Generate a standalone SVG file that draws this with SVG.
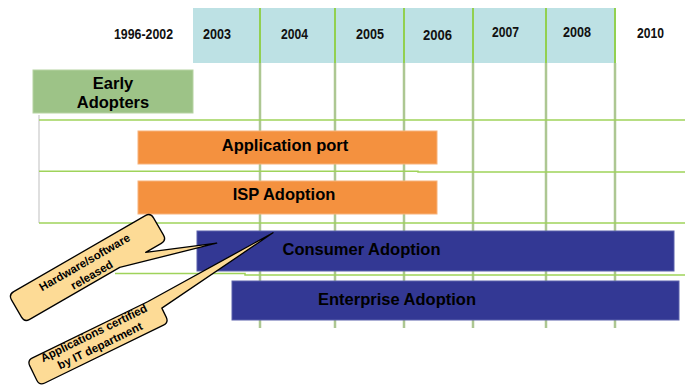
<svg xmlns="http://www.w3.org/2000/svg" width="685" height="391" viewBox="0 0 685 391">
<style>
.yr{font-family:"Liberation Sans",Arial,sans-serif;font-weight:bold;font-size:14px;fill:#111}
.lbl{font-family:"Liberation Sans",Arial,sans-serif;font-weight:bold;font-size:16.5px;fill:#000;text-anchor:middle}
.co{font-family:"Liberation Sans",Arial,sans-serif;font-weight:bold;font-size:11.5px;fill:#000;text-anchor:middle}
.vh{stroke:#92d050;stroke-width:2}
.vb{stroke:#adc792;stroke-width:2.5}
.hl{stroke:#9fd35a;stroke-width:1.5;fill:none}
.orange{fill:#f4913f;stroke:#f8b27a;stroke-width:1}
.blue{fill:#333894;stroke:#5b60ac;stroke-width:1}
.callout{fill:#fddb96;stroke:#000;stroke-width:1.3;stroke-linejoin:round}
</style>
<rect width="685" height="391" fill="#fff"/>
<g id="header">
<rect x="193" y="8" width="422" height="55" fill="#bde1e4"/>
<text class="yr" x="114" y="38.5" textLength="59" lengthAdjust="spacingAndGlyphs" font-size="13">1996-2002</text>
<text class="yr" x="203" y="39" textLength="28" lengthAdjust="spacingAndGlyphs">2003</text>
<text class="yr" x="281" y="39" textLength="27" lengthAdjust="spacingAndGlyphs">2004</text>
<text class="yr" x="356" y="39" textLength="28" lengthAdjust="spacingAndGlyphs">2005</text>
<text class="yr" x="423" y="40" textLength="29" lengthAdjust="spacingAndGlyphs">2006</text>
<text class="yr" x="492" y="37" textLength="27" lengthAdjust="spacingAndGlyphs">2007</text>
<text class="yr" x="563" y="37" textLength="28" lengthAdjust="spacingAndGlyphs">2008</text>
<text class="yr" x="637" y="38" textLength="27" lengthAdjust="spacingAndGlyphs">2010</text>
</g>
<g id="connectors">
<line x1="39" y1="115" x2="39" y2="223" stroke="#d4d4d4" stroke-width="1.5"/>
<g>
<line class="vb" x1="260" y1="63" x2="260" y2="328"/>
<line class="vb" x1="335" y1="63" x2="335" y2="328"/>
<line class="vb" x1="404" y1="63" x2="404" y2="328"/>
<line class="vb" x1="473" y1="63" x2="473" y2="328"/>
<line class="vb" x1="546" y1="63" x2="546" y2="328"/>
<line class="vb" x1="615" y1="63" x2="615" y2="328"/>
</g>
<g>
<line class="vh" x1="260" y1="8" x2="260" y2="63"/>
<line class="vh" x1="335" y1="8" x2="335" y2="63"/>
<line class="vh" x1="404" y1="8" x2="404" y2="63"/>
<line class="vh" x1="473" y1="8" x2="473" y2="63"/>
<line class="vh" x1="546" y1="8" x2="546" y2="63"/>
<line class="vh" x1="615" y1="8" x2="615" y2="63"/>
</g>
<line class="hl" x1="39" y1="120" x2="685" y2="120"/>
<path class="hl" d="M39 171.2 H418 V172 H685"/>
<line class="hl" x1="39" y1="223" x2="685" y2="223"/>
<path class="hl" d="M115 273.5 H245 V275 H685"/>
</g>
<g id="early-adopters">
<rect x="33" y="70" width="160" height="43" fill="#9dc387" stroke="#b6d3a2" stroke-width="1"/>
<text class="lbl" x="113" y="89">Early</text>
<text class="lbl" x="113" y="108">Adopters</text>
</g>
<g id="application-port">
<rect class="orange" x="138" y="131" width="299" height="33"/>
<text class="lbl" x="285" y="150.5">Application port</text>
</g>
<g id="isp-adoption">
<rect class="orange" x="138" y="181" width="299" height="33"/>
<text class="lbl" x="284" y="200">ISP Adoption</text>
</g>
<g id="consumer-adoption">
<rect class="blue" x="197" y="231" width="477" height="40"/>
<text class="lbl" x="361.5" y="255">Consumer Adoption</text>
</g>
<g id="enterprise-adoption">
<rect class="blue" x="232" y="281" width="447" height="39"/>
<text class="lbl" x="397" y="305">Enterprise Adoption</text>
</g>
<g id="callout-hardware" transform="translate(87.5,267.5) rotate(-30)">
<path class="callout" d="M-76 -16 H76 Q82 -16 82 -10 V10 Q82 16 76 16 H58 L124 43.5 L28 16 H-76 Q-82 16 -82 10 V-10 Q-82 -16 -76 -16 Z"/>
<text class="co" x="0" y="-2" font-size="12.5">Hardware/software</text>
<text class="co" x="0" y="12.5" font-size="12.5">released</text>
</g>
<g id="callout-applications" transform="translate(98,341.5) rotate(-26)">
<path class="callout" d="M-66 -14 H62 L205 -21 L72 -2 V8 Q72 14 66 14 H-66 Q-72 14 -72 8 V-8 Q-72 -14 -66 -14 Z"/>
<text class="co" x="0" y="-5.5">Applications certified</text>
<text class="co" x="0" y="8.5">by IT department</text>
</g>
</svg>
